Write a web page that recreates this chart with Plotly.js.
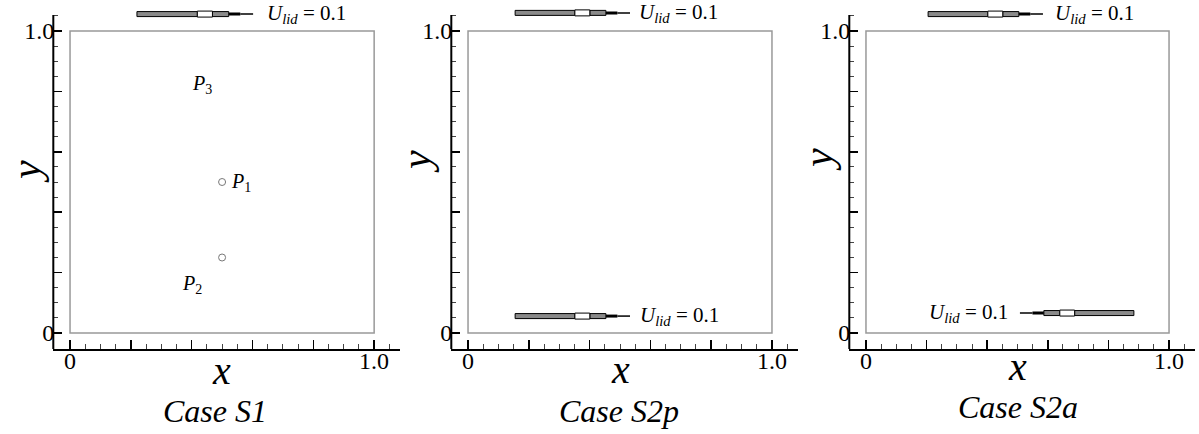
<!DOCTYPE html>
<html>
<head>
<meta charset="utf-8">
<script src="https://cdn.plot.ly/plotly-3.0.1.min.js"></script>
<style>html,body{margin:0;padding:0;background:#fff;}#chart{width:1199px;height:434px;}</style>
</head>
<body>
<div id="chart"></div>
<script>
// ---- data ----
const caseNames = ['Case S1', 'Case S2p', 'Case S2a'];
const majorTickVals = [0, 0.2, 0.4, 0.6, 0.8, 1.0];
const majorTickText = ['0', '', '', '', '', '1.0'];
const minorTickVals = [0.05, 0.1, 0.15, 0.25, 0.3, 0.35, 0.45, 0.5, 0.55, 0.65, 0.7, 0.75, 0.85, 0.9, 0.95, 1.05];

// probe points (Case S1)
const probeX = [0.5, 0.5];
const probeY = [0.5, 0.25];
const probeLabels = ['P<sub>1</sub>', 'P<sub>2</sub>', 'P<sub>3</sub>'];
const probeLabelX = [0.5625, 0.40, 0.434];
const probeLabelY = [0.497, 0.16, 0.824];

// lid velocity arrows
const lidSpeed = 0.1;
const arrowPanel = [1, 2, 2, 3, 3];
const arrowTail = [0.220, 0.155, 0.155, 0.205, 0.884];
const arrowHead = [0.602, 0.533, 0.533, 0.584, 0.508];
const arrowY = [1.056, 1.060, 0.056, 1.056, 0.066];
const lidLabelX = [0.641, 0.556, 0.559, 0.617, 0.475];

// ---- layout helpers ----
const SERIF = 'Liberation Serif, Times New Roman, serif';
const xDomains = [[0.04446, 0.33361], [0.3764, 0.6654], [0.70834, 0.99650]];
const yDomain = [0.19585, 0.98076];
const PXY = 302; // px per data unit (y)

const layout = {
  width: 1199, height: 434,
  margin: {l: 0, r: 0, t: 0, b: 0},
  paper_bgcolor: '#fff', plot_bgcolor: '#fff',
  showlegend: false,
  font: {family: SERIF, color: '#000'},
  shapes: [], annotations: []
};

for (let i = 0; i < 3; i++) {
  const s = i === 0 ? '' : String(i + 1);
  layout['xaxis' + s] = {
    domain: xDomains[i], range: [-0.055, 1.085], anchor: 'y' + s,
    showgrid: false, zeroline: false, showline: true, linecolor: '#000', linewidth: 2,
    tickmode: 'array', tickvals: majorTickVals, ticktext: majorTickText,
    showticklabels: false,
    ticks: 'inside', ticklen: 9, tickwidth: 1.5, tickcolor: '#000',
    minor: {tickmode: 'array', tickvals: minorTickVals, ticks: 'inside', ticklen: 5, tickwidth: 1, tickcolor: '#444'},
    fixedrange: true
  };
  layout['yaxis' + s] = {
    domain: yDomain, range: [-0.053, 1.075], anchor: 'x' + s,
    showgrid: false, zeroline: false, showline: false,
    tickmode: 'array', tickvals: majorTickVals, ticktext: majorTickText,
    ticks: 'inside', ticklen: 9, tickwidth: 1.5, tickcolor: '#000',
    ticklabelstandoff: -2,
    tickfont: {family: SERIF, size: 24, color: '#000'},
    minor: {tickmode: 'array', tickvals: minorTickVals, ticks: 'inside', ticklen: 5, tickwidth: 1, tickcolor: '#444'},
    fixedrange: true
  };
  // x tick labels (0 and 1.0) placed just below the axis line
  [0, majorTickVals.length - 1].forEach(function (n) {
    layout.annotations.push({xref: 'x' + s, yref: 'paper', x: majorTickVals[n], y: 1 - 361 / 434,
      xanchor: 'center', yanchor: 'middle', showarrow: false,
      text: majorTickText[n], font: {family: SERIF, size: 24, color: '#000'}});
  });
  // y axis line (ends at the 1.05 tick)
  layout.shapes.push({type: 'line', xref: 'paper', yref: 'y' + s,
    x0: xDomains[i][0], x1: xDomains[i][0], y0: -0.053, y1: 1.053,
    line: {color: '#000', width: 2}});
  // cavity box
  layout.shapes.push({type: 'rect', xref: 'x' + s, yref: 'y' + s,
    x0: 0, x1: 1, y0: 0, y1: 1, line: {color: '#999', width: 1.5}});
  // case caption
  const capX = [215, 619, 1018][i], capY = [411, 411, 407][i];
  layout.annotations.push({xref: 'paper', yref: 'paper', x: capX / 1199, y: 1 - capY / 434,
    xanchor: 'center', yanchor: 'middle', showarrow: false,
    text: '<i>' + caseNames[i] + '</i>', font: {family: SERIF, size: 32, color: '#000'}});
  // axis titles
  const xtX = [222, 620, 1017][i], xtY = [370, 369, 366][i];
  layout.annotations.push({xref: 'paper', yref: 'paper', x: xtX / 1199, y: 1 - xtY / 434,
    xanchor: 'center', yanchor: 'middle', showarrow: false,
    text: '<i>x</i>', font: {family: SERIF, size: 40, color: '#000'}});
  const ytX = [26, 416, 818][i], ytY = [172, 162, 160][i];
  layout.annotations.push({xref: 'paper', yref: 'paper', x: ytX / 1199, y: 1 - ytY / 434,
    xanchor: 'center', yanchor: 'middle', showarrow: false, textangle: -90,
    text: '<i>y</i>', font: {family: SERIF, size: 42, color: '#000'}});
}

// arrows
function addArrow(k) {
  const s = arrowPanel[k] === 1 ? '' : String(arrowPanel[k]);
  const xr = 'x' + s, yr = 'y' + s;
  const t = arrowTail[k], h = arrowHead[k], y = arrowY[k];
  const L = h - t;
  const at = f => t + f * L;
  const hw = px => px / 2 / PXY;
  const rect = (f0, f1, thick, fill) => layout.shapes.push({type: 'rect', xref: xr, yref: yr,
    x0: at(f0), x1: at(f1), y0: y - hw(thick), y1: y + hw(thick),
    fillcolor: fill, line: {color: '#000', width: 1}});
  rect(0, 0.52, 5, '#8a8a8a');
  rect(0.65, 0.79, 5, '#8a8a8a');
  rect(0.52, 0.65, 6, '#ffffff');
  layout.shapes.push({type: 'line', xref: xr, yref: yr, x0: at(0.79), x1: at(0.89), y0: y, y1: y,
    line: {color: '#000', width: 3}});
  layout.shapes.push({type: 'line', xref: xr, yref: yr, x0: at(0.89), x1: at(1.0), y0: y, y1: y,
    line: {color: '#000', width: 1.5}});
  const anch = L > 0 ? 'left' : 'right';
  layout.annotations.push({xref: xr, yref: yr, x: lidLabelX[k], y: y,
    xanchor: anch, align: anch, yanchor: 'middle', showarrow: false,
    text: '<i>U</i><sub><i>lid</i></sub> = ' + lidSpeed.toFixed(1),
    font: {family: SERIF, size: 21, color: '#000'}});
}
for (let k = 0; k < arrowTail.length; k++) addArrow(k);

// probe labels
for (let j = 0; j < probeLabels.length; j++) {
  layout.annotations.push({xref: 'x', yref: 'y', x: probeLabelX[j], y: probeLabelY[j],
    xanchor: 'center', yanchor: 'middle', showarrow: false,
    text: '<i>P</i>' + probeLabels[j].replace('P', ''), font: {family: SERIF, size: 20, color: '#000'}});
}

const traces = [
  {type: 'scatter', mode: 'markers', x: probeX, y: probeY, xaxis: 'x', yaxis: 'y',
   marker: {symbol: 'circle-open', size: 7, color: '#777', line: {width: 1, color: '#777'}},
   hoverinfo: 'skip'},
  {type: 'scatter', mode: 'markers', x: [], y: [], xaxis: 'x2', yaxis: 'y2'},
  {type: 'scatter', mode: 'markers', x: [], y: [], xaxis: 'x3', yaxis: 'y3'}
];

Plotly.newPlot('chart', traces, layout, {staticPlot: true, displayModeBar: false});
</script>
</body>
</html>
